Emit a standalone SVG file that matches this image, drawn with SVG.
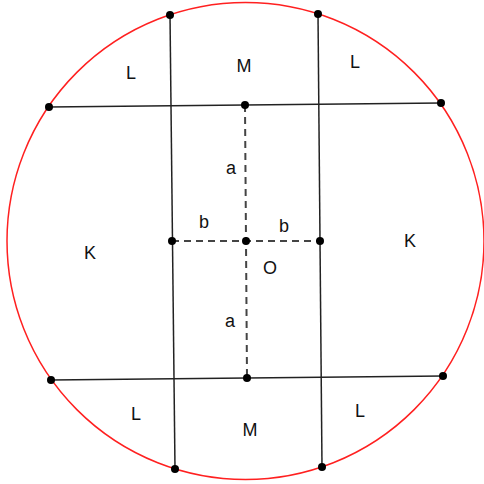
<svg xmlns="http://www.w3.org/2000/svg" width="484" height="484" viewBox="0 0 484 484">
<style>
.ln{stroke:#222;stroke-width:1.5;fill:none}
.ds{stroke:#444;stroke-width:2;fill:none;stroke-dasharray:7,5}
.pt{fill:#000}
text{font-family:"Liberation Sans",Arial,sans-serif;font-size:18px;fill:#111;text-anchor:middle}
</style>
<rect width="484" height="484" fill="#fff"/>
<circle cx="245.5" cy="241" r="238.5" fill="none" stroke="#ff2020" stroke-width="1.5"/>
<g id="connectors">
<line class="ln" x1="49" y1="107" x2="441" y2="103"/>
<line class="ln" x1="51" y1="380" x2="443" y2="376"/>
<line class="ln" x1="170" y1="15" x2="175" y2="469"/>
<line class="ln" x1="318" y1="14" x2="322" y2="467"/>
<line class="ds" x1="245" y1="105" x2="247" y2="378"/>
<line class="ds" x1="172" y1="241" x2="320" y2="241"/>
</g>
<g id="points">
<circle class="pt" cx="170" cy="15" r="4"/>
<circle class="pt" cx="318" cy="14" r="4"/>
<circle class="pt" cx="49" cy="107" r="4"/>
<circle class="pt" cx="441" cy="103" r="4"/>
<circle class="pt" cx="245" cy="105" r="4"/>
<circle class="pt" cx="172" cy="241" r="4"/>
<circle class="pt" cx="246" cy="241" r="4"/>
<circle class="pt" cx="320" cy="241" r="4"/>
<circle class="pt" cx="51" cy="380" r="4"/>
<circle class="pt" cx="443" cy="376" r="4"/>
<circle class="pt" cx="247" cy="378" r="4"/>
<circle class="pt" cx="175" cy="469" r="4"/>
<circle class="pt" cx="322" cy="467" r="4"/>
</g>
<g id="labels">
<text x="131" y="79">L</text>
<text x="244" y="72">M</text>
<text x="355" y="68">L</text>
<text x="90" y="259">K</text>
<text x="410" y="247">K</text>
<text x="231" y="174">a</text>
<text x="204" y="228">b</text>
<text x="284" y="232">b</text>
<text x="270" y="274">O</text>
<text x="230" y="327">a</text>
<text x="136" y="420">L</text>
<text x="250" y="436">M</text>
<text x="360" y="417">L</text>
</g>
</svg>
